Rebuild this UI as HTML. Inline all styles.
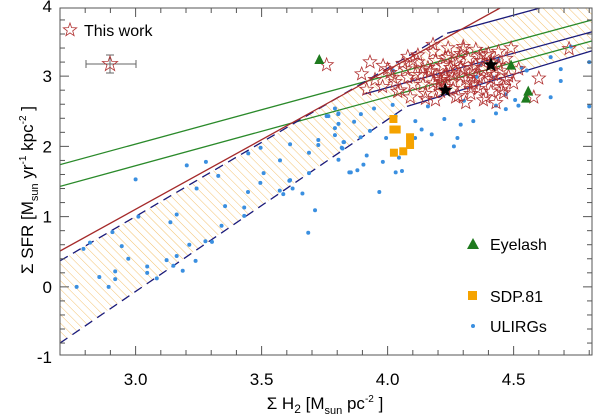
<!DOCTYPE html>
<html><head><meta charset="utf-8"><style>
body{margin:0;background:#fff;}
svg{display:block;font-family:"Liberation Sans",sans-serif;}
</style></head><body>
<svg id="chart" width="601" height="416" xmlns="http://www.w3.org/2000/svg">
<defs>
<pattern id="hatch" width="6" height="6" patternUnits="userSpaceOnUse" patternTransform="rotate(-45)">
<line x1="0" y1="0" x2="0" y2="6" stroke="#f2b24a" stroke-width="0.8"/>
</pattern>
<clipPath id="plotclip"><rect x="60" y="8" width="532" height="347"/></clipPath>
</defs>
<g id="plot" clip-path="url(#plotclip)"></g>
<g id="axes"></g>
<g id="legend"></g>
</svg>
<script>
const NS='http://www.w3.org/2000/svg';
// ---- data ----
const ulirgX=[2.766,2.793,2.819,2.856,2.893,2.908,2.919,2.919,2.945,2.971,3.011,3.046,3.046,3.084,3.123,3.138,3.150,3.163,3.163,3.187,3.213,3.238,3.242,3.277,3.303,3.341,3.355,3.431,3.431,3.446,3.495,3.572,3.586,3.610,3.623,3.662,3.685,3.712,3.967,3.0,3.203,3.279,3.328,3.447,3.496,3.508,3.573,3.613,3.613,3.688,3.688,3.725,3.725,3.791,3.805,3.791,3.805,3.791,3.825,3.821,3.805,3.848,3.758,4.021,3.765,3.804,3.894,3.867,3.930,3.893,3.946,4.020,4.032,3.994,4.110,4.135,4.175,4.160,4.109,3.917,3.904,3.981,4.045,4.032,4.057,3.854,3.880,3.818,3.827,4.225,4.290,4.340,4.303,4.263,4.277,4.353,4.420,4.430,4.430,4.469,4.469,4.506,4.519,4.532,4.552,4.647,4.687,4.687,4.647,4.727,4.800,4.800,4.440,4.367];
const ulirgY=[0.00,0.54,0.63,0.14,0.00,0.78,0.22,0.11,0.58,0.40,1.00,0.29,0.20,0.12,0.38,0.92,0.30,0.44,1.03,0.23,0.60,0.37,1.40,0.65,0.64,0.87,1.15,1.13,1.01,1.35,1.48,1.37,1.32,1.51,1.40,1.33,0.77,1.09,1.35,1.53,1.73,1.78,1.58,1.90,1.98,1.62,1.80,2.03,1.52,1.91,1.62,2.09,2.02,2.54,2.47,2.26,2.32,2.16,2.06,1.97,1.81,1.63,2.43,3.08,2.43,2.46,2.46,2.35,2.22,2.13,2.54,2.59,2.43,2.12,2.36,2.24,2.17,2.57,2.12,1.87,1.74,1.78,1.84,1.63,1.65,1.63,1.66,1.98,2.06,2.39,2.31,2.36,2.65,2.00,2.12,2.99,2.98,2.58,2.47,2.53,2.74,2.66,2.58,3.12,3.08,3.27,3.10,2.93,2.70,3.42,3.20,2.57,3.23,3.17];
const eyelashX=[3.729,4.49,4.558,4.549];
const eyelashY=[3.23,3.15,2.78,2.68];
const sdpX=[4.023,4.023,4.036,4.089,4.089,4.062,4.025];
const sdpY=[2.39,2.24,2.24,2.13,2.02,1.93,1.91];
const workX=[3.758,3.897,3.982,3.917,4.60,4.72,3.95,3.98,4.01,4.03,4.05,4.07,4.08,4.10,4.12,4.13,4.15,4.16,4.18,4.19,4.20,4.21,4.22,4.23,4.24,4.25,4.26,4.27,4.28,4.29,4.30,4.31,4.32,4.33,4.34,4.35,4.36,4.37,4.38,4.39,4.40,4.41,4.42,4.43,4.44,4.45,4.46,4.47,4.48,4.50,4.52,4.12,4.15,4.18,4.21,4.24,4.27,4.30,4.33,4.36,4.39,4.42,4.45,4.06,4.09,4.14,4.17,4.20,4.23,4.26,4.29,4.32,4.35,4.38,4.41,4.44,4.47,4.02,4.10,4.19,4.25,4.31,4.37,4.43,4.11,4.17,4.23,4.29,4.35,4.41,4.04,4.14,4.22,4.28,4.34,4.40,4.46,3.93,4.00,4.26,4.38,4.49,4.58,4.08,4.18,4.30,4.21,4.33,4.27];
const workY=[3.16,3.03,3.15,2.81,2.97,3.39,2.95,2.85,3.05,2.92,2.80,3.10,2.98,2.88,3.20,3.02,2.75,3.12,2.90,3.22,3.00,2.78,3.15,2.85,3.28,3.05,2.92,3.18,2.72,3.32,3.08,2.95,3.25,2.82,3.12,3.38,2.98,3.22,2.88,3.30,3.05,2.78,3.18,2.92,3.35,3.08,2.85,3.25,3.00,2.90,3.10,3.30,2.68,3.35,2.95,3.40,2.70,3.42,2.75,2.82,2.70,3.02,2.80,3.18,2.70,2.88,3.08,2.86,3.02,2.82,3.12,2.90,3.00,3.10,2.96,3.15,2.95,2.98,3.22,2.66,3.12,2.62,3.30,2.62,3.02,3.06,3.26,3.00,3.16,3.20,2.78,3.10,2.98,3.24,2.90,3.32,2.76,3.20,3.10,3.00,2.66,3.40,2.70,3.28,3.45,3.38,2.92,3.06];
const meanX=[4.229,4.410];
const meanY=[2.80,3.16];
const xTicks=[3.0,3.5,4.0,4.5];
const xTickLabels=["3.0","3.5","4.0","4.5"];
const yTicks=[-1,0,1,2,3,4];
const yTickLabels=["-1","0","1","2","3","4"];
// relations (x0,y0,x1,y1 in data units)
const redLine=[2.7,0.51,4.446,3.97];
const upperDash=[2.7,0.37,4.236,3.61];
const upperSolid=[4.236,3.61,4.605,3.97];
const lowerDash=[2.7,-0.80,4.077,2.57];
const lowerSolid=[4.077,2.57,4.81,3.36];
const midSolid=[3.902,2.74,4.81,3.63];
const greenUpper=[2.7,1.74,4.81,3.80];
const greenLower=[2.7,1.43,4.81,3.50];

const X0=2.7,X1=4.811,PX0=60,PX1=592;
const Y0=-0.97,Y1=3.97,PY0=355,PY1=8;
function sx(v){return PX0+(v-X0)/(X1-X0)*(PX1-PX0);}
function sy(v){return PY0+(v-Y0)/(Y1-Y0)*(PY1-PY0);}
function mk(tag,attrs,parent){const e=document.createElementNS(NS,tag);for(const k in attrs)e.setAttribute(k,attrs[k]);parent.appendChild(e);return e;}
const plot=document.getElementById('plot'),axes=document.getElementById('axes'),legend=document.getElementById('legend');

// hatched band
const band=mk('polygon',{points:[[sx(upperDash[0]),sy(upperDash[1])],[sx(upperDash[2]),sy(upperDash[3])],[sx(upperSolid[2]),sy(upperSolid[3])],[sx(4.811),sy(3.97)],[sx(lowerSolid[2]),sy(lowerSolid[3])],[sx(lowerSolid[0]),sy(lowerSolid[1])],[sx(lowerDash[0]),sy(lowerDash[1])]].map(p=>p.join(',')).join(' '),fill:'url(#hatch)',stroke:'none'},plot);



function line(d,color,dash,name){const l=mk('line',{x1:sx(d[0]),y1:sy(d[1]),x2:sx(d[2]),y2:sy(d[3]),stroke:color,'stroke-width':1.3},plot);if(dash)l.setAttribute('stroke-dasharray',dash);

}
line(greenUpper,'#2a8a2a',null,'green-relation-upper');
line(greenLower,'#2a8a2a',null,'green-relation-lower');
line(upperDash,'#1a1a7a','9,6','upper-dashed-relation');
line(upperSolid,'#1a1a7a',null,'upper-solid-relation');
line(lowerDash,'#1a1a7a','9,6','lower-dashed-relation');
line(lowerSolid,'#1a1a7a',null,'lower-solid-relation');
line(midSolid,'#1a1a7a',null,'middle-solid-relation');
line(redLine,'#a52a2a',null,'red-relation');

function starPts(cx,cy,r){let p=[];for(let i=0;i<10;i++){const a=-Math.PI/2+i*Math.PI/5,rr=i%2?r*0.42:r;p.push((cx+rr*Math.cos(a)).toFixed(1)+','+(cy+rr*Math.sin(a)).toFixed(1));}return p.join(' ');}
for(let i=0;i<ulirgX.length;i++){const c=mk('circle',{cx:sx(ulirgX[i]),cy:sy(ulirgY[i]),r:2,fill:'#3a8fe0'},plot);

}
for(let i=0;i<sdpX.length;i++){const c=mk('rect',{x:sx(sdpX[i])-4,y:sy(sdpY[i])-4,width:8,height:8,fill:'#f5a300'},plot);

}
for(let i=0;i<workX.length;i++){const c=mk('polygon',{points:starPts(sx(workX[i]),sy(workY[i]),7),fill:'none',stroke:'#b03030','stroke-width':0.8},plot);

}
for(let i=0;i<eyelashX.length;i++){const x=sx(eyelashX[i]),y=sy(eyelashY[i]);const c=mk('polygon',{points:`${x},${y-6} ${x-5},${y+4} ${x+5},${y+4}`,fill:'#1e7a1e'},plot);

}
for(let i=0;i<meanX.length;i++){const c=mk('polygon',{points:starPts(sx(meanX[i]),sy(meanY[i]),8),fill:'#000'},plot);

}

// frame & ticks
const fr=mk('rect',{x:60,y:8,width:532,height:347,fill:'none',stroke:'#555','stroke-width':1},axes);


for(let v=2.7;v<=4.81;v+=0.1){const x=sx(v);const major=Math.abs(v*2-Math.round(v*2))<0.01;const L=major?9:5;
mk('line',{x1:x,y1:355,x2:x,y2:355-L,stroke:'#555'},axes);mk('line',{x1:x,y1:8,x2:x,y2:8+L,stroke:'#555'},axes);}
for(let v=-0.8;v<=3.97;v+=0.2){const y=sy(v);const major=Math.abs(v-Math.round(v))<0.01;const L=major?9:5;
mk('line',{x1:60,y1:y,x2:60+L,y2:y,stroke:'#555'},axes);mk('line',{x1:592,y1:y,x2:592-L,y2:y,stroke:'#555'},axes);}
for(let i=0;i<xTicks.length;i++){const t=mk('text',{x:sx(xTicks[i]),y:385,'font-size':17,'text-anchor':'middle'},axes);t.textContent=xTickLabels[i];

}
for(let i=0;i<yTicks.length;i++){const t=mk('text',{x:52,y:sy(yTicks[i])+6,'font-size':17,'text-anchor':'end'},axes);t.textContent=yTickLabels[i];

}
</script>
<svg style="position:absolute;left:0;top:0" width="601" height="416" xmlns="http://www.w3.org/2000/svg" font-family="Liberation Sans, sans-serif">
<text x="325" y="409" font-size="17" text-anchor="middle">Σ H<tspan font-size="12" dy="4">2</tspan><tspan dy="-4"> [M</tspan><tspan font-size="11" dy="5">sun</tspan><tspan dy="-5">  pc</tspan><tspan font-size="10" dy="-7">-2</tspan><tspan dy="7"> ]</tspan></text>
<text transform="translate(33,190) rotate(-90)" font-size="17" text-anchor="middle">Σ SFR [M<tspan font-size="11" dy="5">sun</tspan><tspan dy="-5">  yr</tspan><tspan font-size="10" dy="-7">-1</tspan><tspan dy="7"> kpc</tspan><tspan font-size="10" dy="-7">-2</tspan><tspan dy="7"> ]</tspan></text>
<g>
<polygon points="70,23 71.6,27.6 76.7,27.8 72.7,30.9 74.1,35.7 70,32.9 65.9,35.7 67.3,30.9 63.3,27.8 68.4,27.6" fill="none" stroke="#b03030" stroke-width="0.8"/>
<text x="84" y="36" font-size="16">This work</text></g>
<g stroke="#666" stroke-width="1">
<line x1="86" y1="64" x2="136" y2="64"/><line x1="86" y1="60" x2="86" y2="68"/><line x1="136" y1="60" x2="136" y2="68"/>
<line x1="110" y1="55" x2="110" y2="73"/><line x1="106" y1="55" x2="114" y2="55"/><line x1="106" y1="73" x2="114" y2="73"/>
<polygon points="110,56 111.9,61.4 117.6,61.5 113,65 114.7,70.5 110,67.3 105.3,70.5 107,65 102.4,61.5 108.1,61.4" fill="none" stroke="#b03030" stroke-width="0.8"/></g>
<g><polygon points="473,238 467,249 479,249" fill="#1e7a1e"/><text x="490" y="250" font-size="16">Eyelash</text></g>
<g><rect x="468" y="291" width="9" height="9" fill="#f5a300"/><text x="490" y="302" font-size="16">SDP.81</text></g>
<g><circle cx="473" cy="326" r="2" fill="#3a8fe0"/><text x="490" y="332" font-size="16">ULIRGs</text></g>
</svg>
</body></html>
